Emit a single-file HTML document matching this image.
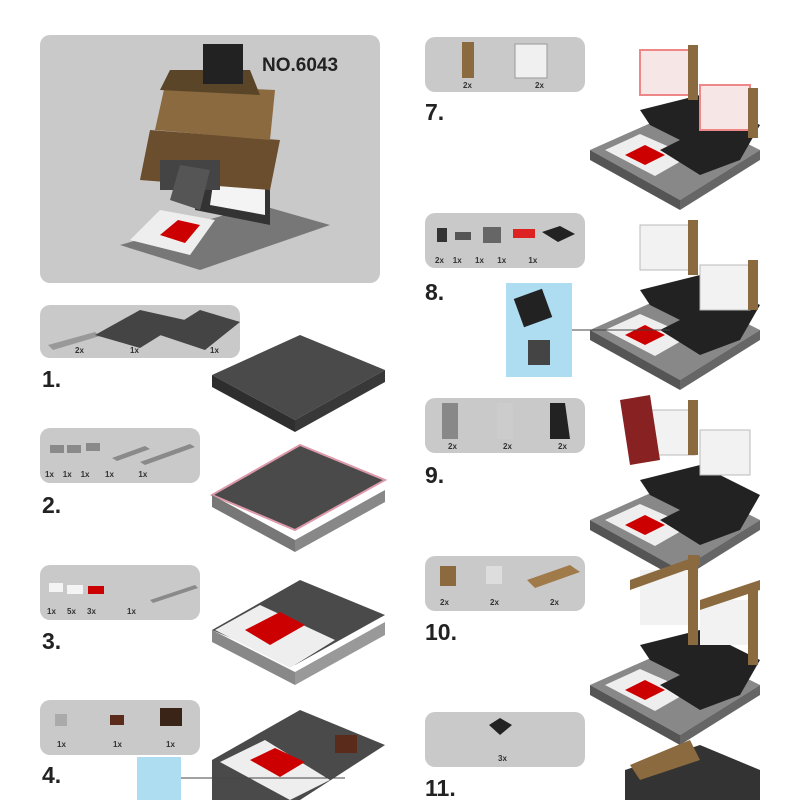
<!DOCTYPE html><html><head><style>
body{margin:0;width:800px;height:800px;background:#fff;overflow:hidden;position:relative;font-family:"Liberation Sans",sans-serif}
.b{position:absolute;background:#c9c9c9;border-radius:10px}
.n{position:absolute;font-weight:bold;font-size:23px;color:#222}
.q{position:absolute;font-size:8px;font-weight:bold;color:#333}
svg{position:absolute;left:0;top:0}
</style></head><body>
<div class="b" style="left:40px;top:35px;width:340px;height:248px"></div>
<div style="position:absolute;left:262px;top:55px;font-weight:bold;font-size:19px;color:#222">NO.6043</div>
<div class="b" style="left:40px;top:305px;width:200px;height:53px"></div>
<div class="b" style="left:40px;top:428px;width:160px;height:55px"></div>
<div class="b" style="left:40px;top:565px;width:160px;height:55px"></div>
<div class="b" style="left:40px;top:700px;width:160px;height:55px"></div>
<div class="b" style="left:425px;top:37px;width:160px;height:55px"></div>
<div class="b" style="left:425px;top:213px;width:160px;height:55px"></div>
<div class="b" style="left:425px;top:398px;width:160px;height:55px"></div>
<div class="b" style="left:425px;top:556px;width:160px;height:55px"></div>
<div class="b" style="left:425px;top:712px;width:160px;height:55px"></div>
<div style="position:absolute;left:506px;top:283px;width:66px;height:94px;background:#aedcf0"></div>
<div style="position:absolute;left:137px;top:757px;width:44px;height:43px;background:#aedcf0"></div>
<div class="n" style="left:42px;top:366px">1.</div>
<div class="n" style="left:42px;top:492px">2.</div>
<div class="n" style="left:42px;top:628px">3.</div>
<div class="n" style="left:42px;top:762px">4.</div>
<div class="n" style="left:425px;top:99px">7.</div>
<div class="n" style="left:425px;top:279px">8.</div>
<div class="n" style="left:425px;top:462px">9.</div>
<div class="n" style="left:425px;top:619px">10.</div>
<div class="n" style="left:425px;top:775px">11.</div>
<div class="q" style="left:75px;top:346px">2x</div><div class="q" style="left:130px;top:346px">1x</div><div class="q" style="left:210px;top:346px">1x</div>
<div class="q" style="left:45px;top:470px">1x &nbsp;&nbsp; 1x &nbsp;&nbsp; 1x &nbsp;&nbsp;&nbsp;&nbsp;&nbsp; 1x &nbsp;&nbsp;&nbsp;&nbsp;&nbsp;&nbsp;&nbsp;&nbsp;&nbsp; 1x</div>
<div class="q" style="left:47px;top:607px">1x &nbsp;&nbsp;&nbsp; 5x &nbsp;&nbsp;&nbsp; 3x &nbsp;&nbsp;&nbsp;&nbsp;&nbsp;&nbsp;&nbsp;&nbsp;&nbsp;&nbsp;&nbsp;&nbsp; 1x</div>
<div class="q" style="left:57px;top:740px">1x</div><div class="q" style="left:113px;top:740px">1x</div><div class="q" style="left:166px;top:740px">1x</div>
<div class="q" style="left:463px;top:81px">2x</div><div class="q" style="left:535px;top:81px">2x</div>
<div class="q" style="left:435px;top:256px">2x &nbsp;&nbsp; 1x &nbsp;&nbsp;&nbsp;&nbsp; 1x &nbsp;&nbsp;&nbsp;&nbsp; 1x &nbsp;&nbsp;&nbsp;&nbsp;&nbsp;&nbsp;&nbsp;&nbsp; 1x</div>
<div class="q" style="left:448px;top:442px">2x</div><div class="q" style="left:503px;top:442px">2x</div><div class="q" style="left:558px;top:442px">2x</div>
<div class="q" style="left:440px;top:598px">2x</div><div class="q" style="left:490px;top:598px">2x</div><div class="q" style="left:550px;top:598px">2x</div>
<div class="q" style="left:498px;top:754px">3x</div>
<svg width="800" height="800">
<!-- parts icons -->
<g fill="#8a8a8a">
<rect x="50" y="445" width="14" height="8"/><rect x="67" y="445" width="14" height="8"/><rect x="86" y="443" width="14" height="8"/>
<polygon points="112,458 145,446 150,449 117,461"/><polygon points="140,462 190,444 195,447 145,465"/>
<polygon points="150,600 195,585 198,588 153,603"/>
</g>
<rect x="49" y="583" width="14" height="9" fill="#f4f4f4"/><rect x="67" y="585" width="16" height="9" fill="#f4f4f4"/><rect x="88" y="586" width="16" height="8" fill="#c00"/>
<rect x="55" y="714" width="12" height="12" fill="#aaa"/><rect x="110" y="715" width="14" height="10" fill="#5a2a1a"/><rect x="160" y="708" width="22" height="18" fill="#3a2418"/>
<rect x="462" y="42" width="12" height="36" fill="#8a6a3e"/><rect x="515" y="44" width="32" height="34" fill="#f0f0f0" stroke="#999"/>
<rect x="437" y="228" width="10" height="14" fill="#333"/><rect x="455" y="232" width="16" height="8" fill="#555"/><rect x="483" y="227" width="18" height="16" fill="#666"/><rect x="513" y="229" width="22" height="9" fill="#d22"/><polygon points="542,232 560,226 575,234 558,242" fill="#222"/>
<rect x="442" y="403" width="16" height="36" fill="#888"/><rect x="497" y="403" width="16" height="36" fill="#ccc"/><polygon points="550,403 565,403 570,439 550,439" fill="#222"/>
<rect x="440" y="566" width="16" height="20" fill="#8a6a3e"/><rect x="486" y="566" width="16" height="18" fill="#ddd"/><polygon points="527,580 570,565 580,572 535,588" fill="#a07a48"/>
<!-- main model -->
<polygon points="120,245 200,270 330,225 260,205" fill="#777"/>
<polygon points="130,240 190,255 215,220 160,210" fill="#eee"/>
<polygon points="160,235 185,243 200,225 178,220" fill="#c00"/>
<polygon points="195,210 270,225 270,170 200,160" fill="#333"/>
<polygon points="210,205 265,215 265,175 215,170" fill="#f4f4f4"/>
<polygon points="140,180 270,190 280,140 150,130" fill="#6a4e2e"/>
<polygon points="155,130 270,140 275,90 165,85" fill="#8a6a3e"/>
<polygon points="160,90 260,95 250,70 170,70" fill="#5a4528"/>
<rect x="203" y="44" width="40" height="40" fill="#222"/>
<rect x="160" y="160" width="60" height="30" fill="#444"/>
<polygon points="170,200 200,210 210,170 180,165" fill="#555"/>
<!-- step1 parts -->
<polygon points="48,345 95,332 100,336 53,350" fill="#999"/>
<polygon points="95,335 140,310 185,320 140,348" fill="#444"/>
<polygon points="160,335 200,310 240,322 205,350" fill="#444"/>
<!-- step plates left -->
<polygon points="212,375 300,335 385,370 295,420" fill="#4a4a4a"/>
<polygon points="212,375 295,420 295,432 212,387" fill="#2e2e2e"/>
<polygon points="295,420 385,370 385,382 295,432" fill="#383838"/>
<polygon points="212,495 300,445 385,480 295,530" fill="#4a4a4a" stroke="#d9a" stroke-width="2"/>
<polygon points="212,495 295,540 295,552 212,507" fill="#777"/>
<polygon points="295,540 385,490 385,502 295,552" fill="#888"/>
<polygon points="212,630 300,580 385,615 295,665" fill="#4a4a4a"/>
<polygon points="215,630 290,668 335,640 260,605" fill="#eee"/>
<polygon points="245,630 270,645 305,625 280,612" fill="#c00"/>
<polygon points="212,630 295,672 295,685 212,642" fill="#888"/>
<polygon points="295,672 385,622 385,635 295,685" fill="#999"/>
<polygon points="212,760 300,710 385,745 300,800 212,800" fill="#4a4a4a"/>
<polygon points="220,762 290,800 330,780 265,740" fill="#eee"/>
<polygon points="250,760 280,777 305,762 275,748" fill="#c00"/>
<rect x="335" y="735" width="22" height="18" fill="#5a2a1a"/>
<line x1="181" y1="778" x2="345" y2="778" stroke="#444"/>
<!-- right models -->
<g id="r">
<polygon points="590,150 680,110 760,150 680,200" fill="#888"/>
<polygon points="590,150 680,200 680,210 590,160" fill="#555"/>
<polygon points="680,200 760,150 760,160 680,210" fill="#666"/>
<polygon points="605,150 655,176 690,156 640,134" fill="#eee"/>
<polygon points="625,155 645,165 665,155 645,145" fill="#c00"/>
<polygon points="640,110 700,95 760,125 740,160 700,175 660,150 680,140 650,125" fill="#222"/>
</g>
<rect x="640" y="50" width="55" height="45" fill="#f6e6e6" stroke="#e88" stroke-width="2"/>
<rect x="700" y="85" width="50" height="45" fill="#f6e6e6" stroke="#e88" stroke-width="2"/>
<rect x="688" y="45" width="10" height="55" fill="#8a6a3e"/><rect x="748" y="88" width="10" height="50" fill="#8a6a3e"/>
<use href="#r" y="180"/>
<rect x="640" y="225" width="55" height="45" fill="#f2f2f2" stroke="#bbb"/><rect x="700" y="265" width="50" height="45" fill="#f2f2f2" stroke="#bbb"/>
<rect x="688" y="220" width="10" height="55" fill="#8a6a3e"/><rect x="748" y="260" width="10" height="50" fill="#8a6a3e"/>
<rect x="518" y="293" width="30" height="30" fill="#222" transform="rotate(-20 533 308)"/>
<rect x="528" y="340" width="22" height="25" fill="#444"/>
<line x1="572" y1="330" x2="670" y2="330" stroke="#444"/>
<use href="#r" y="370"/>
<rect x="640" y="410" width="55" height="45" fill="#f2f2f2" stroke="#bbb"/><rect x="700" y="430" width="50" height="45" fill="#f2f2f2" stroke="#bbb"/>
<rect x="688" y="400" width="10" height="55" fill="#8a6a3e"/>
<polygon points="620,400 650,395 660,460 630,465" fill="#822"/>
<use href="#r" y="535"/>
<rect x="640" y="570" width="55" height="55" fill="#f2f2f2"/><rect x="700" y="600" width="50" height="45" fill="#f2f2f2"/>
<polygon points="630,580 700,555 700,565 630,590" fill="#8a6a3e"/><polygon points="700,600 760,580 760,590 700,610" fill="#8a6a3e"/>
<rect x="688" y="555" width="10" height="90" fill="#8a6a3e"/><rect x="748" y="585" width="10" height="80" fill="#8a6a3e"/>
<polygon points="625,770 700,745 760,770 760,800 625,800" fill="#333"/>
<polygon points="630,765 690,740 700,760 640,780" fill="#8a6a3e"/>
<polygon points="489,725 500,718 512,725 500,735" fill="#222"/>
</svg>
</body></html>
